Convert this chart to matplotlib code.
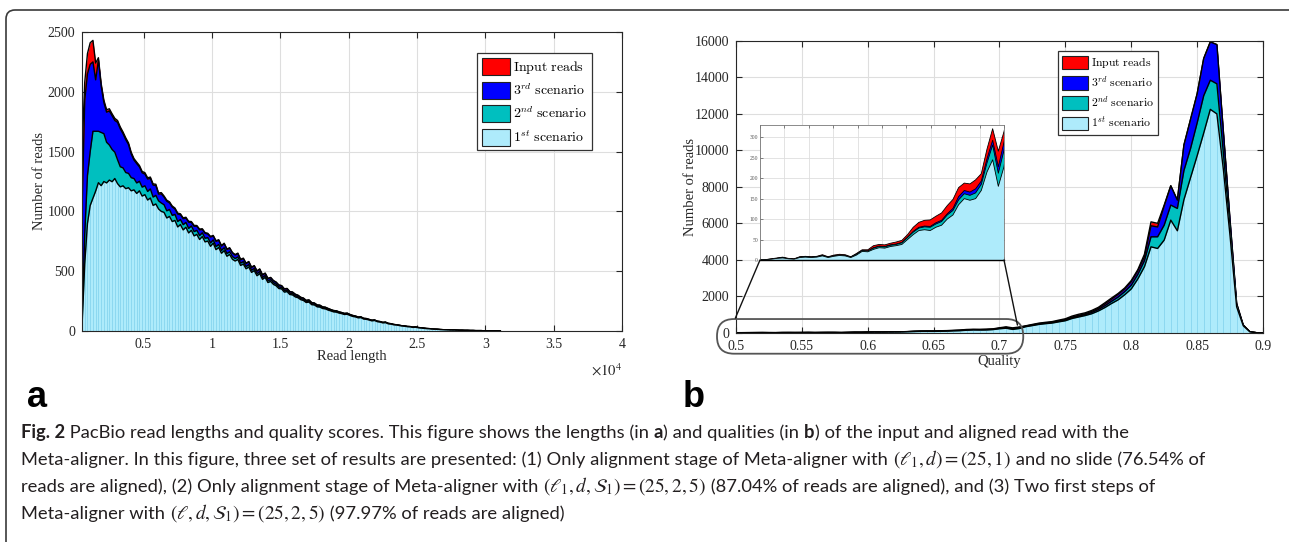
import numpy as np
import matplotlib
matplotlib.use("Agg")
import matplotlib.pyplot as plt
import matplotlib.patches as mpatches
from matplotlib.patches import ConnectionPatch
from matplotlib.transforms import IdentityTransform
from matplotlib.font_manager import FontProperties

# ---------------- data: panel a (read length histogram) ----------------
read_len = np.arange(500, 31101, 200)

scen1_a = [40, 560, 900, 1050, 1110, 1170, 1240, 1215, 1250, 1238,
           1262, 1248, 1275, 1232, 1205, 1214, 1190, 1198, 1172, 1180,
           1150, 1172, 1128, 1140, 1095, 1112, 1050, 1062, 1020, 1000,
           992, 945, 958, 915, 925, 870, 890, 845, 868, 820,
           842, 795, 808, 765, 790, 745, 752, 708, 735, 680,
           698, 650, 672, 625, 640, 600, 585, 598, 548, 560,
           520, 535, 490, 505, 462, 480, 432, 448, 405, 415,
           390, 378, 355, 352, 325, 330, 305, 302, 285, 278,
           262, 255, 238, 242, 220, 218, 202, 200, 188, 185,
           175, 168, 160, 158, 150, 145, 138, 140, 130, 122,
           118, 110, 112, 100, 98, 92, 85, 88, 78, 75,
           68, 70, 60, 58, 52, 50, 46, 42, 40, 36,
           35, 30, 32, 27, 25, 22, 20, 19, 16, 15,
           14, 12, 11, 10, 9, 8, 8, 7, 6, 6,
           5, 5, 4, 4, 3, 3, 3, 2, 2, 2,
           1, 1, 1, 0]
extra2_a = [5, 250, 400, 450, 560, 500, 430, 445, 400, 340,
            293, 270, 220, 200, 168, 150, 135, 120, 110, 95,
            88, 80, 75, 74, 72, 76, 70, 72, 68, 70,
            64, 60, 58, 52, 50, 46, 42, 44, 40, 38,
            36, 36, 34, 33, 31, 30, 29, 28, 27, 26,
            25, 24, 24, 23, 22, 22, 21, 21, 20, 20,
            19, 19, 18, 17, 17, 16, 16, 15, 15, 14,
            14, 13, 13, 12, 12, 11, 11, 10, 10, 9,
            9, 9, 8, 8, 8, 7, 7, 7, 6, 6,
            6, 5, 5, 5, 5, 4, 4, 4, 4, 4,
            3, 3, 3, 3, 3, 2, 2, 2, 2, 2,
            2, 2, 2, 1, 1, 1, 1, 1, 1, 1,
            1, 1, 1, 1, 1, 1, 0, 0, 0, 0,
            0, 0, 0, 0, 0, 0, 0, 0, 0, 0,
            0, 0, 0, 0, 0, 0, 0, 0, 0, 0,
            0, 0, 0, 0]
extra3_a = [955, 1120, 850, 730, 580, 430, 595, 390, 260, 252,
            285, 282, 265, 313, 317, 286, 275, 242, 198, 155,
            162, 120, 120, 98, 104, 88, 100, 83, 57, 77,
            64, 80, 55, 70, 45, 62, 40, 50, 36, 52,
            30, 45, 34, 48, 28, 42, 30, 50, 32, 44,
            35, 36, 33, 34, 30, 31, 29, 28, 27, 26,
            25, 24, 23, 22, 21, 20, 20, 19, 18, 17,
            16, 16, 15, 14, 14, 13, 12, 12, 11, 11,
            10, 10, 9, 9, 9, 8, 8, 8, 7, 7,
            7, 6, 6, 6, 5, 5, 5, 5, 4, 4,
            4, 4, 3, 3, 3, 3, 3, 2, 2, 2,
            2, 2, 2, 2, 2, 1, 1, 1, 1, 1,
            1, 1, 1, 1, 1, 1, 1, 1, 0, 0,
            0, 0, 0, 0, 0, 0, 0, 0, 0, 0,
            0, 0, 0, 0, 0, 0, 0, 0, 0, 0,
            0, 0, 0, 0]
extra_in_a = [500, 150, 170, 180, 180, 140, 20, 20, 20, 20,
              18, 16, 18, 15, 16, 14, 15, 13, 14, 12,
              12, 12, 11, 12, 10, 11, 10, 10, 9, 10,
              9, 9, 9, 8, 8, 8, 8, 7, 7, 7,
              7, 7, 6, 6, 6, 6, 6, 5, 5, 5,
              5, 5, 5, 4, 4, 4, 4, 4, 4, 3,
              3, 3, 3, 3, 3, 3, 3, 2, 2, 2,
              2, 2, 2, 2, 2, 2, 2, 2, 2, 1,
              1, 1, 1, 1, 1, 1, 1, 1, 1, 1,
              0, 0, 0, 0, 0, 0, 0, 0, 0, 0,
              0, 0, 0, 0, 0, 0, 0, 0, 0, 0,
              0, 0, 0, 0, 0, 0, 0, 0, 0, 0,
              0, 0, 0, 0, 0, 0, 0, 0, 0, 0,
              0, 0, 0, 0, 0, 0, 0, 0, 0, 0,
              0, 0, 0, 0, 0, 0, 0, 0, 0, 0,
              0, 0, 0, 0]

# ---------------- data: panel b (quality histogram) ----------------
quality = np.round(np.arange(0.5, 0.9001, 0.005), 3)
scen1_b = [0, 1, 2, 4, 5, 3, 2, 6, 7, 6, 7, 10, 6, 9, 11, 10, 6, 12, 21, 20, 26, 30,
           29, 33, 35, 38, 50, 62, 72, 74, 72, 80, 85, 100, 110, 135, 150, 146, 150,
           170, 215, 245, 180, 228,
           330, 390, 455, 495, 530, 595, 655, 780, 860, 940, 1040, 1190, 1380, 1600,
           1800, 2080, 2400, 2950, 3617, 4710, 4620, 5080, 6175, 5590, 7300, 8500,
           9700, 10950, 12250, 12000, 8900, 5300, 1420, 380, 45, 0, 0]
scen2_b = [0, 1, 2, 4, 6, 3, 2, 7, 8, 7, 8, 11, 7, 10, 12, 11, 7, 14, 23, 22, 29, 33,
           32, 36, 38, 42, 55, 68, 78, 81, 80, 88, 94, 110, 121, 147, 162, 158, 164,
           185, 237, 281, 212, 268,
           350, 410, 480, 520, 555, 625, 690, 820, 910, 990, 1110, 1270, 1480, 1720,
           1950, 2250, 2600, 3200, 3946, 5260, 5260, 5900, 7000, 6815, 8900, 10100,
           11500, 13000, 13850, 13650, 9800, 5700, 1500, 400, 50, 0, 0]
scen3_b = [0, 1, 2, 4, 6, 3, 2, 7, 8, 7, 8, 11, 7, 10, 12, 11, 7, 14, 23, 22, 30, 34,
           33, 37, 39, 43, 56, 70, 80, 83, 82, 91, 97, 113, 126, 155, 170, 166, 174,
           193, 247, 293, 228, 288,
           365, 430, 500, 540, 575, 650, 720, 860, 950, 1040, 1170, 1340, 1580, 1840,
           2100, 2400, 2800, 3400, 4166, 5865, 5800, 6950, 8057, 7271, 10300, 11700,
           13100, 15040, 15950, 15800, 10950, 6150, 1600, 420, 55, 0, 0]
input_b = [0, 1, 3, 5, 7, 4, 3, 8, 9, 8, 9, 13, 8, 12, 14, 13, 8, 16, 25, 25, 35, 38,
           37, 41, 44, 48, 62, 80, 92, 97, 98, 107, 115, 133, 148, 177, 188, 186, 196,
           211, 271, 321, 266, 314,
           380, 455, 525, 570, 610, 690, 765, 910, 1010, 1090, 1220, 1390, 1640, 1900,
           2150, 2450, 2860, 3460, 4300, 6080, 6000, 7000, 8060, 7272, 10300, 11700,
           13100, 15040, 15950, 15800, 10950, 6150, 1600, 420, 55, 0, 0]

labels = [r'$\mathrm{Input\ reads}$', r'$3^{rd}\ \mathrm{scenario}$',
          r'$2^{nd}\ \mathrm{scenario}$', r'$1^{st}\ \mathrm{scenario}$']
a_xticks = [5000, 10000, 15000, 20000, 25000, 30000, 35000, 40000]
a_xticklabels = ['0.5', '1', '1.5', '2', '2.5', '3', '3.5', '4']
a_yticks = [0, 500, 1000, 1500, 2000, 2500]
b_xticks = [0.5, 0.55, 0.6, 0.65, 0.7, 0.75, 0.8, 0.85, 0.9]
b_xticklabels = ['0.5', '0.55', '0.6', '0.65', '0.7', '0.75', '0.8', '0.85', '0.9']
b_yticks = list(range(0, 16001, 2000))
inset_yticks = [0, 50, 100, 150, 200, 250, 300]
zoom_range = (0.5, 0.715)

C_IN, C_3, C_2, C_1 = '#ff0000', '#0000ff', '#00bfbf', '#aeebfb'
C_STRIPE = '#87d5ee'
DARK = '#262626'

plt.rcParams.update({
    'font.family': 'Liberation Serif',
    'mathtext.fontset': 'stix',
    'axes.linewidth': 0.8,
    'axes.edgecolor': DARK,
    'xtick.direction': 'in', 'ytick.direction': 'in',
    'xtick.top': True, 'ytick.right': True,
    'xtick.major.size': 4, 'ytick.major.size': 4,
    'xtick.color': DARK, 'ytick.color': DARK,
    'xtick.labelsize': 10, 'ytick.labelsize': 10,
})

W, H = 1289, 542
fig = plt.figure(figsize=(W / 100, H / 100), dpi=100)


def ax_rect(l, t, r, b):
    return [l / W, 1 - b / H, (r - l) / W, (b - t) / H]


axA = fig.add_axes(ax_rect(82, 32, 622, 331))
axB = fig.add_axes(ax_rect(736, 41, 1263, 332.7))
axI = fig.add_axes(ax_rect(760, 125, 1004, 260))


def draw_layers(ax, x, s1, s2, s3, s_in, lw=1.0, stripes=True):
    z = 2.0
    for vals, col in [(s_in, C_IN), (s3, C_3), (s2, C_2), (s1, C_1)]:
        ax.fill_between(x, 0, vals, color=col, lw=0, zorder=z)
        if stripes and col == C_1:
            ax.vlines(x, 0, vals, colors=C_STRIPE, lw=0.6, zorder=z + 0.005)
        ax.plot(x, vals, color='k', lw=lw, zorder=z + 0.01, solid_joinstyle='round')
        z += 0.02


def style_axes(ax):
    ax.grid(True, color='#dedede', lw=0.8)
    ax.set_axisbelow(True)
    ax.tick_params(colors=DARK, pad=5)
    for sp in ax.spines.values():
        sp.set_color(DARK)


def add_legend(ax, anchor, size, hl, hh, ls):
    handles = [mpatches.Patch(facecolor=c, edgecolor='#222222', lw=0.8)
               for c in (C_IN, C_3, C_2, C_1)]
    leg = ax.legend(handles, labels, loc='upper left', bbox_to_anchor=anchor,
                    borderaxespad=0, fancybox=False, framealpha=1,
                    edgecolor='#333333', handlelength=hl, handleheight=hh,
                    labelspacing=ls, handletextpad=0.25, borderpad=0.35,
                    prop=FontProperties(size=size, math_fontfamily='cm'))
    leg.get_frame().set_linewidth(0.9)
    return leg


# ---------------- panel a ----------------
s1a = np.array(scen1_a)
s2a = s1a + np.array(extra2_a)
s3a = s2a + np.array(extra3_a)
sina = s3a + np.array(extra_in_a)
draw_layers(axA, read_len, s1a, s2a, s3a, sina, lw=1.0)
axA.set_xlim(500, 40000)
axA.set_ylim(0, 2500)
axA.set_xticks(a_xticks)
axA.set_xticklabels(a_xticklabels)
axA.set_yticks(a_yticks)
style_axes(axA)
axA.set_xlabel('Read length', fontsize=10.5, color=DARK)
axA.xaxis.set_label_coords(0.5, -(350 - 331) / 299)
axA.set_ylabel('Number of reads', fontsize=10.5, color=DARK)
axA.yaxis.set_label_coords(-(82 - 46) / 540, 0.5)
axA.text(1.0, -0.105, r'$\times10^4$', transform=axA.transAxes, ha='right',
         va='top', fontsize=10.5, color=DARK)
add_legend(axA, ((477 - 82) / 540, 1 - (53 - 32) / 299), 10, 2.0, 1.5, 0.45)

# ---------------- panel b ----------------
draw_layers(axB, quality, scen1_b, scen2_b, scen3_b, input_b, lw=1.0)
axB.set_xlim(0.5, 0.9)
axB.set_ylim(0, 16000)
axB.set_xticks(b_xticks)
axB.set_xticklabels(b_xticklabels)
axB.set_yticks(b_yticks)
style_axes(axB)
axB.set_xlabel('Quality', fontsize=10.5, color=DARK)
axB.xaxis.set_label_coords(0.5, -(355 - 332.7) / 291.7)
axB.set_ylabel('Number of reads', fontsize=10.5, color=DARK)
axB.yaxis.set_label_coords(-(736 - 697) / 527, 0.5)
add_legend(axB, ((1058 - 736) / 527, 1 - (51 - 41) / 291.7), 8.5, 2.2, 1.35, 0.42)

# ---------------- inset ----------------
draw_layers(axI, quality, scen1_b, scen2_b, scen3_b, input_b, lw=0.6, stripes=False)
axI.set_xlim(*zoom_range)
axI.set_ylim(0, 330)
axI.set_xticks(np.linspace(zoom_range[0], zoom_range[1], 11))
axI.set_xticklabels([])
axI.set_yticks(inset_yticks)
axI.grid(True, color='#dedede', lw=0.6)
axI.set_axisbelow(True)
axI.tick_params(labelsize=4, length=2.5, pad=1.5, colors='#555555', width=0.5)
for sp in axI.spines.values():
    sp.set_color('#777777')
    sp.set_linewidth(0.6)
axI.spines['bottom'].set_color('k')
axI.spines['bottom'].set_linewidth(1.0)

# zoom indicator: rounded box on main axis and connectors
x0 = axB.transData.transform((zoom_range[0], 0))[0] - 19
x1 = axB.transData.transform((zoom_range[1], 0))[0] + 4
ytop = axB.transData.transform((0.5, 750))[1]
ybot = axB.transAxes.transform((0, 0))[1] - 21
fig.add_artist(mpatches.FancyBboxPatch(
    (x0, ybot), x1 - x0, ytop - ybot, boxstyle='round,pad=0,rounding_size=17',
    transform=IdentityTransform(), fill=False, ec='#555555', lw=1.3, zorder=10))
for xyA, xyB in [((0, 0), (0.4995, 800)), ((1, 0), (0.7136, 420))]:
    cp = ConnectionPatch(xyA=xyA, coordsA=axI.transAxes, xyB=xyB,
                         coordsB=axB.transData, color='#111111', lw=1.0, zorder=10)
    fig.add_artist(cp)

# ---------------- outer frame ----------------
fig.add_artist(mpatches.FancyBboxPatch(
    (6, -100), 1300 - 6, (H - 10) + 100, boxstyle='round,pad=0,rounding_size=9',
    transform=IdentityTransform(), fill=False, ec='#3a3a3a', lw=1.2, zorder=20))

# ---------------- panel letters ----------------
fig.text(27 / W, 1 - 407 / H, 'a', family='Liberation Sans', weight='bold',
         fontsize=26, va='baseline', ha='left', color='k')
fig.text(683 / W, 1 - 407 / H, 'b', family='Liberation Sans', weight='bold',
         fontsize=26, va='baseline', ha='left', color='k')

# ---------------- caption ----------------
CAP = [
    [("Fig. 2", 'b'), (" PacBio read lengths and quality scores. This figure shows the lengths (in ", 'n'),
     ("a", 'b'), (") and qualities (in ", 'n'), ("b", 'b'),
     (") of the input and aligned read with the", 'n')],
    [("Meta-aligner. In this figure, three set of results are presented: (1) Only alignment stage of Meta-aligner with ", 'n'),
     (r"$(\ell_1, d) = (25, 1)$", 'm'), (" and no slide (76.54% of", 'n')],
    [("reads are aligned), (2) Only alignment stage of Meta-aligner with ", 'n'),
     (r"$(\ell_1, d, \mathcal{S}_1) = (25, 2, 5)$", 'm'),
     (" (87.04% of reads are aligned), and (3) Two first steps of", 'n')],
    [("Meta-aligner with ", 'n'), (r"$(\ell, d, \mathcal{S}_1) = (25, 2, 5)$", 'm'),
     (" (97.97% of reads are aligned)", 'n')],
]
CAP_FONT = 'Lato'
CAP_COLOR = '#231f20'
renderer = fig.canvas.get_renderer()


def props(kind, size):
    kw = dict(fontsize=size, color=CAP_COLOR, va='baseline', ha='left', family=CAP_FONT)
    if kind == 'b':
        kw['weight'] = 'bold'
    if kind == 'm':
        kw['math_fontfamily'] = 'stix'
        kw['fontsize'] = size * 1.05
    return kw


def piece_width(s, kind, size):
    kw = props(kind, size)
    if kind == 'm':
        t = fig.text(0, 0, s, **kw)
        w = t.get_window_extent(renderer).width
        t.remove()
        return w
    t1 = fig.text(0, 0, s + '|', **kw)
    t2 = fig.text(0, 0, '|', **kw)
    w = t1.get_window_extent(renderer).width - t2.get_window_extent(renderer).width
    t1.remove()
    t2.remove()
    return w


def line_width(parts, size):
    return sum(piece_width(s, k, size) for s, k in parts)


size0 = 11.0
cap_size = size0 * (1104 / line_width(CAP[0], size0))

for i, parts in enumerate(CAP):
    x = 21.0
    y = 438 + 27 * i
    for s, k in parts:
        fig.text(x / W, 1 - y / H, s, **props(k, cap_size))
        x += piece_width(s, k, cap_size)

fig.savefig('out.png', dpi=100)
